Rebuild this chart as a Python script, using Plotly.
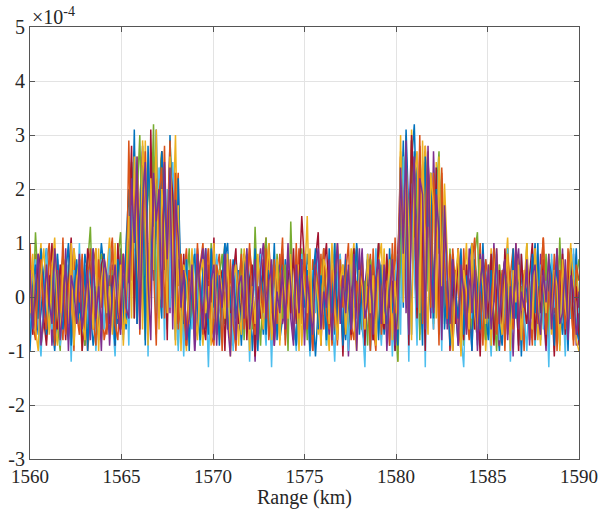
import plotly.graph_objects as go

# Signal amplitudes in units of 1e-5 (shown in units of 1e-4), sampled every 0.15 km from 1560 km
X_START = 1560.0
X_STEP = 0.15
SCALE = 0.1

s1 = ([2,6,-1,-7,-3,4,9,1,-5,-10, -2,5,7,-4,-8,0,6,3,-6,-1, 8,4,-3,-9,-4,2,10,5,-2,-7, 1,7,-5,-3,4,-6]
      + [8,24,11,-3,17,28,6,-5,20,13,31,2,-4,22,9,27,15,-2,7]
      + [3,-6,-9,1,5,8,-2,-7,4,9, -3,-8,-1,6,2,-5,7,10,-4,-9, 0,5,-3,-6,8,3,-10,-2,6,1, -7,4,9,-1,-5,3,-8,-4,7,2,
         5,-3,-9,6,1,-6,8,4,-2,-11, -3,7,2,-5,9,-1,-7,3,6,-4, -8,1,5,-2,10,4,-6,-9,2,7, -1,-5,8,3,-7,0,6,-4,-10,4]
      + [12,29,6,-4,25,32,10,-6,19,27,4,-3,21,14,24,-1,9]
      + [-5,3,8,-2,-9,5,1,-6,7,10, -3,-8,4,6,-1,-7,2,9,-4,-10, 3,7,-2,-6,5,1,-9,6,-3,8, -5,2,10,-4,-7,0,5,-8,3,6, -2,-9,7,1,-5,4,-1,9,-6])
s2 = ([-4,3,8,-2,-9,-5,6,10,2,-6, 4,-1,-8,7,3,-5,9,-3,-7,5, 1,-10,-4,6,9,-2,3,-8,-5,7, 11,-3,2,-6,8,-1]
      + [5,19,27,-2,14,8,24,-6,3,26,18,-1,11,28,4,21,-3,16,23]
      + [-6,4,9,-3,2,-8,-5,6,10,-1, 3,-7,-9,5,8,-4,1,-6,7,-2, -10,3,6,-5,-1,9,4,-8,2,-3, 7,11,-4,-9,5,-2,8,1,-6,-3,
         6,-7,2,9,-5,3,-1,-10,7,4, -3,8,-6,1,5,-9,-4,10,2,-5, 6,-2,-8,4,9,-3,1,-7,3,8, -5,-10,6,2,-4,7,-1,-6,11,-3]
      + [23,7,30,-5,16,26,2,22,-3,28,11,18,-6,20,8,23,-2]
      + [4,-7,9,2,-5,-10,6,3,-2,8, -6,1,10,-4,-8,5,-1,7,3,-9, -3,6,-7,4,9,-1,-5,2,-10,7, 1,-4,8,-6,3,11,-2,-8,5,-3, 9,-5,2,-7,6,1,-9,4,-2])
s3 = ([7,-1,-6,4,10,-3,-8,2,6,-5, -9,3,8,1,-4,-7,9,5,-2,-10, 4,-6,2,7,-3,9,-8,-1,5,11, -4,-7,3,8,-2,-5]
      + [-3,21,9,26,15,-6,29,4,12,23,-1,19,27,7,-4,24,13,30,2]
      + [8,-4,-10,5,1,-6,7,3,-9,2, 9,-2,-5,6,-8,4,10,-3,-7,1, 5,-9,3,8,-1,-6,2,-11,6,4, -3,9,-7,1,5,-2,-8,7,3,-5,
         10,-4,-1,6,-9,2,15,-6,-3,4, -7,3,9,-2,-10,6,1,-5,8,-4, 2,-8,5,10,-3,-6,4,-1,7,-9, 3,6,-4,-8,9,-2,1,-7,5,-12]
      + [27,5,20,-4,31,12,24,-7,17,28,3,22,-2,25,9,19,-5]
      + [6,-3,-9,4,8,-6,2,10,-4,-1, 7,-8,3,5,-10,1,9,-5,-2,6, -7,4,11,-3,-6,2,8,-9,5,-1, 3,-4,9,-8,1,6,-5,-2,7,-10, 4,8,-3,-6,2,10,-7,5,-1])
s4 = ([-2,5,-7,-3,8,2,-6,4,-9,-1, 7,3,-5,9,-4,-8,1,6,-3,5, -9,-2,8,4,-6,1,-10,7,3,-4, 6,-8,-1,9,-5,2]
      + [3,16,25,-5,11,27,20,-2,8,22,-7,18,26,5,14,-3,23,10,-1]
      + [-7,6,2,-4,8,-10,-3,5,9,-6, 1,4,-8,7,-2,-5,10,3,-9,2, 6,-4,-7,8,1,-3,5,-12,4,9, -6,2,-1,7,-8,3,6,-5,-2,10,
         -4,-9,5,1,8,-6,3,-3,-10,7, 2,-5,9,-1,-7,4,6,-8,3,-2, 8,-11,1,5,-4,9,-6,2,7,-3, -8,4,10,-5,-1,6,-9,3,-4,8]
      + [19,24,-3,14,29,7,-6,26,18,2,21,-4,27,10,15,-2,17]
      + [-6,2,7,-4,9,-8,-1,5,3,-10, 6,-3,8,1,-7,4,-5,10,-2,-9, 3,7,-6,2,-11,5,9,-4,-1,6, -8,4,1,-5,8,-3,-10,7,2,-6, 5,-2,9,-7,3,-4,8,-9,1])
s5 = ([9,-4,12,3,-8,-2,6,-6,1,8, -5,-10,4,7,-3,10,-7,2,5,-1, -9,6,13,-4,2,-7,8,3,-6,-2, 5,-9,7,12,-3,1]
      + [10,25,-4,18,30,6,-8,23,13,32,-2,20,27,8,-6,29,16,4,-9]
      + [5,-8,2,9,-4,-1,7,-9,3,6, -6,10,-2,-7,4,8,-5,1,-10,6, 3,-3,9,-8,5,2,-6,13,-1,-9, 4,11,-5,2,-7,8,1,-4,6,-10,
         14,-3,5,-6,9,2,-8,4,-2,7, -5,1,8,-9,3,-4,10,-7,2,6, -3,-8,5,9,-1,4,-6,3,-9,7, 2,-5,10,-4,1,-7,6,8,-3,-12]
      + [7,26,20,-3,29,11,22,-8,17,25,1,23,-5,19,27,6,14]
      + [-4,9,-7,3,6,-2,-9,5,1,-6, 8,12,-5,2,-8,4,7,-3,-10,6, 1,-6,9,-4,3,7,-8,2,-1,10, -5,4,-9,6,2,-3,8,-7,5,1, -6,11,-2,-8,4,9,-5,3,7])
s6 = ([-8,3,7,-5,-11,1,9,-2,-6,4, 8,-9,-3,2,6,-12,5,-4,10,-7, 1,-5,8,3,-10,-1,7,-6,2,9, -4,-11,5,1,-8,6]
      + [-9,17,4,23,-6,12,25,-11,19,7,-3,24,15,-8,20,-2,25,9,-10]
      + [4,-11,7,-2,-6,9,1,-9,5,3, -13,6,-4,8,-1,-7,10,-5,2,-10, 7,3,-8,-3,9,-12,4,1,-6,8, -2,-9,5,-13,6,2,-5,9,-8,-1,
         7,-4,-10,3,8,-6,1,-11,5,-3, 9,-7,2,-9,6,-2,-12,4,8,-5, 1,-10,7,3,-8,5,-3,-13,6,2, -6,9,-1,-9,4,-4,7,-11,3,8]
      + [-7,26,14,-12,21,5,-9,25,18,-13,23,3,-6,24,11,-10,16]
      + [-3,6,-10,2,8,-7,-13,5,1,-4, 9,-9,3,-6,7,-2,-11,4,6,-8, 2,-5,9,-12,1,5,-7,8,-3,-10, 4,7,-9,-1,6,-6,3,-13,8,-2, 5,-8,1,-11,7,-4,9,-6,-2])
s7 = ([3,-7,-2,8,5,-4,-9,1,10,-3, -6,6,2,-8,4,11,-5,-1,7,-10, -3,9,5,-6,1,-8,6,8,-2,-5, 4,-9,10,-3,-7,7]
      + [12,28,-4,21,9,26,17,-7,31,5,22,-3,27,14,-8,25,19,3,-5]
      + [-2,8,-9,5,1,-6,9,3,-4,-8, 6,-1,11,-7,2,5,-10,7,-3,4, 9,-5,-1,8,-8,3,6,-11,2,-4, 7,-6,10,1,-9,4,-2,8,-7,5,
         -3,9,-5,2,15,6,3,-8,1,7, 12,-9,5,10,-2,-6,8,-3,4,-11, 6,2,-7,9,-1,-5,7,-9,3,5, -8,1,10,-4,-6,8,-2,3,-10,6]
      + [26,10,23,-9,30,18,-4,28,7,-10,25,16,-2,24,-7,19,12]
      + [7,-10,3,-5,9,1,-8,6,-3,10, -6,2,-11,7,4,-4,8,-9,1,5, -7,9,-2,-6,6,3,-10,8,-1,-5, 4,10,-8,2,-3,7,-9,6,1,-11, 5,-4,8,-7,3,9,-6,2,-9])
s8 = ([-10,2,6,-4,9,3,-7,-1,5,-8, 8,-3,-6,4,10,-9,1,7,-2,-5, 6,-10,3,9,-4,-7,2,8,-6,4, -1,-9,7,3,-5,10]
      + [20,6,31,-5,14,24,-9,28,11,3,21,-4,27,17,-1,30,8,-8,22]
      + [2,-5,7,-10,4,8,-3,-8,6,1, -7,9,-2,5,-9,3,10,-6,-1,7, -4,2,-9,6,8,-5,-2,9,-10,4, 1,-7,5,-3,10,-8,3,6,-6,-1,
         8,-4,-9,2,7,-2,5,-10,3,9, -6,4,1,-8,6,-3,10,-5,2,-9, 7,-1,-6,4,9,-7,2,-4,8,-10, 5,3,-8,6,-2,-5,9,-3,1,-9]
      + [24,-2,31,15,-7,27,21,4,-9,26,13,23,-4,20,9,22,-6]
      + [3,-9,6,1,-4,9,-7,4,-2,-10, 7,2,-6,10,-3,-8,5,-1,8,-5, -9,4,2,-7,9,-4,6,-11,3,1, -6,8,-3,10,-8,2,-5,7,4,-9, 6,-2,-7,5,-10,8,3,-6,-8])
s9 = ([10,-5,-8,3,7,-2,-6,9,1,-9, 5,-3,11,-7,2,6,-10,4,-1,8, -6,3,9,-4,-9,7,-2,5,-7,1, 10,-5,-8,4,8,-3]
      + [29,3,18,24,-7,12,27,-2,21,6,-9,19,24,-4,15,29,1,23,-6]
      + [8,-3,-9,5,2,-6,10,-1,-7,4, 9,-8,-4,6,3,-10,7,-2,5,-5, -9,2,8,-6,1,10,-4,-7,6,3, -3,9,-8,-2,7,-5,4,11,-9,1,
         5,-7,10,-4,-1,8,-6,3,-10,6, 2,-8,9,-3,-6,5,1,-9,7,-2, 4,10,-5,-8,3,-1,8,-6,2,-10, 9,-4,6,-7,1,3,-9,10,-3,-1]
      + [21,9,26,-6,17,24,2,30,-5,14,27,-2,23,11,-9,24,7]
      + [-4,8,-10,5,2,-6,9,-3,-8,6, 11,-5,1,-9,7,3,-4,9,-7,-1, 5,-10,8,2,-6,10,-3,-8,4,6, -2,-9,7,-5,3,11,-7,1,-4,8, -10,5,2,-6,9,-1,-8,6,3])
s10 = ([-3,8,-6,-10,4,9,1,-7,5,11, -2,-8,6,2,-5,10,-9,3,7,-4, -8,5,1,-6,9,-10,3,7,-3,2, -7,10,-4,6,-9,3]
       + [15,-4,26,9,-1,29,18,-9,22,5,31,-6,20,13,-3,26,8,-9,17]
       + [-10,6,3,-5,9,-1,-8,4,7,-3, 2,-9,10,-6,5,1,-4,8,-11,3, 6,-2,-7,9,4,-10,2,-5,8,-1, -6,3,10,-8,-3,7,-9,5,1,-4,
          8,-6,3,-10,6,2,-3,9,-7,4, -1,-9,7,5,-5,10,-2,-8,3,6, -7,1,9,-4,-10,5,2,-6,8,-3, 4,-9,6,10,-5,-1,7,-8,3,-6]
       + [30,-1,25,13,-8,22,27,-3,29,6,-7,23,17,-4,26,2,21]
       + [8,-4,-10,3,9,-11,5,1,-6,10, -3,-8,7,2,-5,6,-9,4,9,-2, -7,3,8,-10,5,-1,6,-8,2,10, -4,-6,9,1,-9,4,-3,8,-7,5, 2,-10,7,-2,-5,9,3,-8,-10])
s11 = ([5,-6,2,8,-9,-3,6,-1,-5,9, 3,-8,-2,7,-10,4,1,-5,8,-6, -1,5,-8,9,-4,2,-6,7,4,-9, 1,6,-3,-7,8,-2]
       + [-4,22,10,26,-6,17,25,3,-8,23,14,20,-2,25,7,24,-6,18,11]
       + [-2,5,-8,-4,6,-10,8,1,-6,9, -4,3,6,-9,4,-2,8,-5,-11,6, -8,2,4,-4,9,-6,-1,7,-8,5, 10,-4,3,6,-9,1,-3,5,-6,8,
          2,-8,6,-3,7,-9,4,-2,-7,5, 9,-6,1,-2,7,-8,3,10,-5,4, -3,6,-6,8,-10,2,9,-4,-1,6, -7,3,7,-5,6,-10,1,7,-9,-3]
       + [24,8,29,-7,15,26,-2,22,19,-6,28,4,-3,19,12,-8,17]
       + [4,-5,7,-2,-9,6,1,-7,9,-3, 5,-10,2,8,-4,6,-6,-1,9,-5, 3,7,-8,2,-4,10,-6,1,-2,7, -9,4,6,-3,-7,5,-1,8,-6,2, 9,-5,-3,7,-8,4,1,-7,-3])

series = [s1, s2, s3, s4, s5, s6, s7, s8, s9, s10, s11]
colors = ["#0072BD", "#D95319", "#EDB120", "#7E2F8E", "#77AC30", "#4DBEEE", "#A2142F"]

x_ticks = [1560, 1565, 1570, 1575, 1580, 1585, 1590]
y_ticks = [-3, -2, -1, 0, 1, 2, 3, 4, 5]

fig = go.Figure()
for k, s in enumerate(series):
    xs = [X_START + X_STEP * i for i in range(len(s))]
    ys = [v * SCALE for v in s]
    fig.add_trace(go.Scatter(x=xs, y=ys, mode="lines",
                             line=dict(color=colors[k % len(colors)], width=1.5),
                             hoverinfo="skip", showlegend=False))


def serif(size=20):
    return dict(family="Liberation Serif", size=size, color="#262626")


fig.update_layout(
    width=598, height=514,
    margin=dict(l=30, r=19, t=27, b=55, autoexpand=False),
    paper_bgcolor="white", plot_bgcolor="white",
    font=serif(),
    xaxis=dict(range=[1560, 1590], tickvals=x_ticks, ticktext=[str(v) for v in x_ticks],
               showgrid=True, gridcolor="#E3E3E3", gridwidth=1, automargin=False,
               showline=True, linecolor="#555555", linewidth=1, mirror="ticks",
               ticks="inside", ticklen=5, tickcolor="#555555", zeroline=False,
               tickfont=serif(19)),
    yaxis=dict(range=[-3, 5], tickvals=y_ticks, ticktext=[str(v) for v in y_ticks],
               showgrid=True, gridcolor="#E3E3E3", gridwidth=1, automargin=False,
               showline=True, linecolor="#555555", linewidth=1, mirror="ticks",
               ticks="inside", ticklen=5, tickcolor="#555555", zeroline=False,
               tickfont=serif()),
    annotations=[
        dict(text="×10<sup>-4</sup>", xref="paper", yref="paper", x=0, y=1,
             xanchor="left", yanchor="bottom", showarrow=False, font=serif(), yshift=-3),
        dict(text="Range (km)", xref="paper", yref="paper", x=0.5, y=0,
             xanchor="center", yanchor="middle", showarrow=False, font=serif(), yshift=-38),
    ],
)

fig.write_html("out.html")
